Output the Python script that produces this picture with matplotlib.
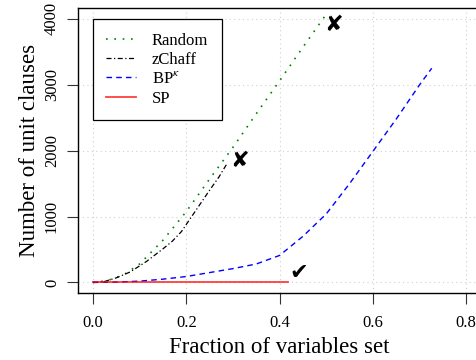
import matplotlib
matplotlib.use("Agg")
import matplotlib.pyplot as plt

plt.rcParams['font.family'] = ['Liberation Serif', 'DejaVu Serif']
plt.rcParams['mathtext.fontset'] = 'stix'

# Data
random_x = [0, 0.03, 0.05, 0.07, 0.1, 0.15, 0.2, 0.25, 0.3, 0.35, 0.4, 0.45, 0.5, 0.503]
random_y = [0, 26, 75, 135, 280, 640, 1075, 1570, 2050, 2560, 3060, 3570, 4070, 4100]

zchaff_x = [0, 0.025, 0.05, 0.08, 0.115, 0.15, 0.17, 0.19, 0.2, 0.25, 0.27, 0.287]
zchaff_y = [0, 15, 70, 160, 320, 510, 625, 775, 880, 1400, 1600, 1800]

bp_x = [0, 0.05, 0.1, 0.15, 0.2, 0.25, 0.3, 0.35, 0.4, 0.45, 0.5, 0.55, 0.6, 0.65, 0.7, 0.726]
bp_y = [0, 5, 20, 50, 90, 150, 210, 280, 410, 700, 1040, 1500, 1990, 2480, 3000, 3250]

sp_x = [0, 0.1, 0.2, 0.3, 0.418]
sp_y = [0, 0, 0, 0, 0]

fail_marks = [(0.315, 1840), (0.515, 3910)]
ok_marks = [(0.44, 145)]

xticks = [0.0, 0.2, 0.4, 0.6, 0.8]
xticklabels = ['0.0', '0.2', '0.4', '0.6', '0.8']
yticks = [0, 1000, 2000, 3000, 4000]

fig = plt.figure(figsize=(4.77, 3.6), dpi=100)
ax = fig.add_axes([78/477, 67/360, 403.2/477, 284.7/360])

ax.grid(True, color='#d0d0d0', linestyle=(0, (1, 3)), linewidth=0.8)
ax.set_axisbelow(True)

ax.plot(random_x, random_y, color='green', linestyle=(0, (1, 4)), linewidth=1.2, label='Random')
ax.plot(zchaff_x, zchaff_y, color='black', linestyle=(0, (4, 2, 1, 2)), linewidth=0.9, label='zChaff')
ax.plot(bp_x, bp_y, color='blue', linestyle=(0, (4, 3)), linewidth=1.0, label=r'BP$^{\kappa}$')
ax.plot(sp_x, sp_y, color='red', linestyle='-', linewidth=1.3, alpha=0.75, label='SP')

for (mx, my) in fail_marks:
    ax.text(mx, my, '\u2718', family='DejaVu Sans', fontsize=16, ha='center', va='center', color='black')
for (mx, my) in ok_marks:
    ax.text(mx, my, '\u2714', family='DejaVu Sans', fontsize=16, ha='center', va='center', color='black')

ax.set_xlim(-0.032, 0.832)
ax.set_ylim(-160, 4160)
ax.set_xticks(xticks)
ax.set_xticklabels(xticklabels)
ax.set_yticks(yticks)
ax.set_yticklabels([str(v) for v in yticks], rotation=90, va='center')
ax.tick_params(axis='both', direction='out', length=8, width=0.8, labelsize=12, color='#333333')
ax.tick_params(axis='x', pad=8)
ax.tick_params(axis='y', pad=5)

for s in ax.spines.values():
    s.set_linewidth(1.0)
    s.set_color('black')

ax.set_xlabel('Fraction of variables set', fontsize=16.5, labelpad=4)
ax.set_ylabel('Number of unit clauses', fontsize=16.5, labelpad=3)

leg = ax.legend(loc='upper left', bbox_to_anchor=(14.7/403.2, 1 - 11/284.7), fontsize=12,
                frameon=True, fancybox=False, edgecolor='black', framealpha=1,
                handlelength=1.8, handletextpad=0.95, borderpad=0.8, labelspacing=0.2,
                borderaxespad=0)
leg.get_frame().set_linewidth(0.9)

fig.savefig('out.png', dpi=100)
